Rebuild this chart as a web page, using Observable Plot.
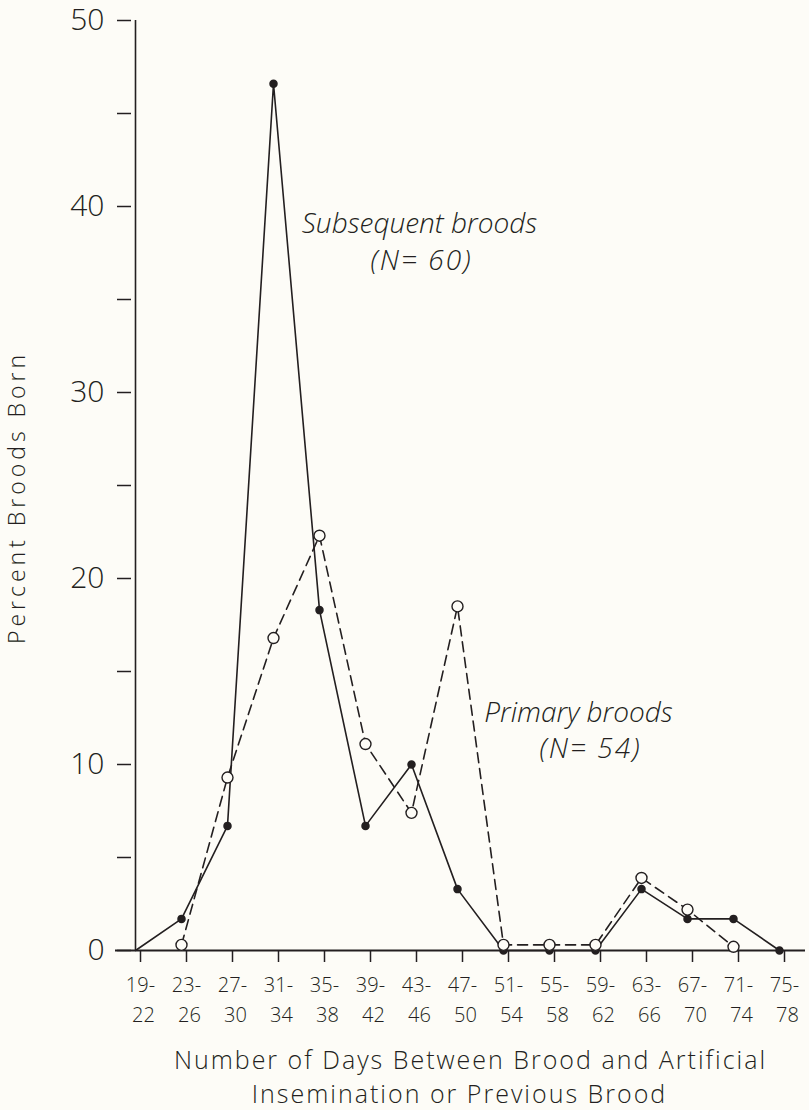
<!DOCTYPE html>
<html>
<head>
<meta charset="utf-8">
<script src="https://cdn.jsdelivr.net/npm/d3@7"></script>
<script src="https://cdn.jsdelivr.net/npm/@observablehq/plot@0.6"></script>
<style>
  html, body { margin: 0; padding: 0; background: #fdfcf7; }
  #chart svg { display: block; }
</style>
</head>
<body>
<div id="chart"></div>
<script>
// Day-interval categories (x axis)
const categories = ["19-22","23-26","27-30","31-34","35-38","39-42","43-46","47-50","51-54","55-58","59-62","63-66","67-70","71-74","75-78"];
// Subsequent broods (N=60), solid line, filled dots
const subsequent = [0, 1.7, 6.7, 46.6, 18.3, 6.7, 10.0, 3.3, 0, 0, 0, 3.3, 1.7, 1.7, 0];
// Primary broods (N=54), dashed line, open circles
const primaryCategories = ["23-26","27-30","31-34","35-38","39-42","43-46","47-50","51-54","55-58","59-62","63-66","67-70","71-74"];
const primary = [0.3, 9.3, 16.8, 22.3, 11.1, 7.4, 18.5, 0.3, 0.3, 0.3, 3.9, 2.2, 0.2];
// Y ticks
const yTicks = [0, 5, 10, 15, 20, 25, 30, 35, 40, 45, 50];
const yLabelTicks = [0, 10, 20, 30, 40, 50];
// Texts
const yTitle = "Percent Broods Born";
const xTitle = ["Number of Days Between Brood and Artificial", "Insemination or Previous Brood"];
const subLabel = ["Subsequent broods", "(N= 60)"];
const primLabel = ["Primary broods", "(N= 54)"];

const subData = categories.map((c, i) => ({cat: c, v: subsequent[i]}));
const primData = primaryCategories.map((c, i) => ({cat: c, v: primary[i]}));

const ink = "#231f20";
const font = "'Open Sans', 'DejaVu Sans', sans-serif";
const ann = {frameAnchor: "top-left", textAnchor: "middle", lineAnchor: "middle", fontSize: 28, fontStyle: "italic", fontWeight: 300, fill: ink};
const xt = {frameAnchor: "bottom", textAnchor: "middle", lineAnchor: "middle", fontSize: 25, fontWeight: 300, fill: ink};

const chart = Plot.plot({
  width: 809,
  height: 1110,
  marginTop: 20,
  marginBottom: 160,
  marginLeft: 131,
  marginRight: 26,
  style: {background: "transparent", fontFamily: font, color: ink, overflow: "visible"},
  x: {type: "point", domain: categories, padding: 0},
  y: {domain: [0, 50]},
  marks: [
    // axes lines
    Plot.ruleY([0], {stroke: ink, strokeWidth: 2, insetLeft: -16, insetRight: -22}),
    Plot.ruleX([categories[0]], {stroke: ink, strokeWidth: 1.6}),
    Plot.axisY({
      ticks: yTicks, tickSize: 14, tickPadding: 13, strokeWidth: 1.5,
      tickFormat: d => yLabelTicks.includes(d) ? String(d) : "",
      fontSize: 30, fontWeight: 300, label: null
    }),
    Plot.axisX({
      tickSize: 12, tickPadding: 15, strokeWidth: 1.5,
      tickFormat: d => d.split("-")[0] + "-",
      fontSize: 20, fontWeight: 300, dx: 5, label: null
    }),
    Plot.axisX({
      tickSize: 0, tickPadding: 27,
      tickFormat: d => d.split("-")[1],
      fontSize: 20, fontWeight: 300, dx: 8, dy: 30, label: null
    }),
    // series
    Plot.line(primData, {x: "cat", y: "v", stroke: ink, strokeWidth: 1.6, strokeDasharray: "10,6"}),
    Plot.line(subData, {x: "cat", y: "v", stroke: ink, strokeWidth: 1.6}),
    Plot.dot(subData.slice(1), {x: "cat", y: "v", r: 3.5, fill: ink, stroke: ink}),
    Plot.dot(primData, {x: "cat", y: "v", r: 5.5, fill: "#fdfcf7", stroke: ink, strokeWidth: 1.4}),
    // annotations
    Plot.text([subLabel[0]], {...ann, dx: 288, dy: 204}),
    Plot.text([subLabel[1]], {...ann, dx: 290, dy: 241}),
    Plot.text([primLabel[0]], {...ann, dx: 447, dy: 693}),
    Plot.text([primLabel[1]], {...ann, dx: 459, dy: 729}),
    // titles
    Plot.text([yTitle], {frameAnchor: "left", textAnchor: "middle", lineAnchor: "middle", rotate: -90, dx: -114, dy: 12, fontSize: 23, fontWeight: 300, fill: ink}),
    Plot.text([xTitle[0]], {...xt, dx: 13, dy: 110}),
    Plot.text([xTitle[1]], {...xt, dx: 2, dy: 144})
  ]
});
// letter spacing for a few texts (Plot's text mark has no letterSpacing option)
const spacing = {
  [yTitle]: "4px",
  [xTitle[0]]: "2px",
  [xTitle[1]]: "2px",
  [subLabel[1]]: "2px",
  [primLabel[1]]: "2px"
};
d3.select(chart).selectAll("text").each(function() {
  const s = spacing[this.textContent];
  if (s) this.style.letterSpacing = s;
});
document.getElementById("chart").appendChild(chart);
</script>
</body>
</html>
